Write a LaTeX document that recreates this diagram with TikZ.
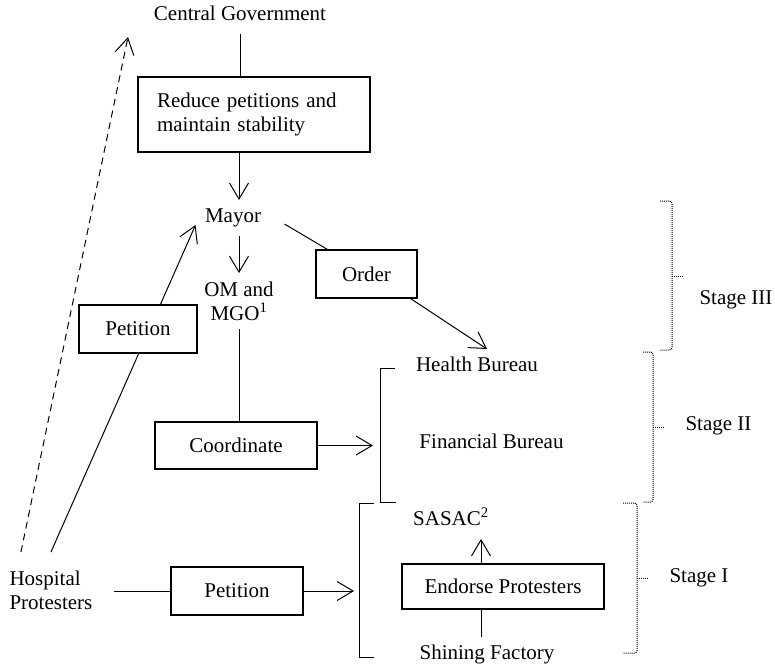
\documentclass[tikz,border=0pt]{standalone}
\usepackage{fontspec}
\setmainfont{Liberation Serif}
\usetikzlibrary{arrows.meta}

\begin{document}
\begin{tikzpicture}[x=1pt, y=-1pt, line width=1pt,
    font=\fontsize{21}{24}\selectfont,
    box/.style={draw, line width=1.2pt, fill=white, inner sep=0pt, align=center},
    lbl/.style={inner xsep=3pt, inner ysep=8pt, text height=14pt, text depth=5pt, align=center},
    lbltwo/.style={inner xsep=3pt, inner ysep=8pt},
    arr/.style={-{Straight Barb[length=16pt, width=19pt]}},
    brace/.style={line width=1pt, dash pattern=on 1pt off 1pt, rounded corners=2.5pt}]
    \useasboundingbox (0,0) rectangle (775,665);

    % labels
    \node[lbl] (central) at (240,16) {Central Government};
    \node[box, text width=194pt, inner xsep=19pt, minimum height=75pt, align=left] (reduce) at (254,114.5) {Reduce petitions and\\maintain stability};
    \node[lbl] (mayor) at (233,218) {Mayor};
    \node[lbltwo, align=center] (om) at (239,301) {OM and\\MGO\textsuperscript{1}};
    \node[box, minimum width=101pt, minimum height=48pt] (order) at (366.5,274) {Order};
    \node[lbl] (health) at (477,367) {Health Bureau};
    \node[lbl] (financial) at (491.5,444) {Financial Bureau};
    \node[box, minimum width=162pt, minimum height=47pt] (coord) at (236,445.5) {Coordinate};
    \node[lbltwo, anchor=west, align=left] (hospital) at (6,590) {Hospital\\Protesters};
    \node[box, minimum width=132pt, minimum height=48pt] (petlow) at (237,591) {Petition};
    \node[lbl] (sasac) at (451,521) {SASAC\textsuperscript{2}};
    \node[box, minimum width=202pt, minimum height=45pt] (endorse) at (503,586.5) {Endorse Protesters};
    \node[lbl] (shining) at (487,655) {Shining Factory};
    \node[lbl, anchor=west] (stagethree) at (696,300) {Stage III};
    \node[lbl, anchor=west] (stagetwo) at (682,426) {Stage II};
    \node[lbl, anchor=west] (stageone) at (666,578) {Stage I};

    \coordinate (gov) at (128,37);
    \coordinate (bureaus) at (373,445.5);
    \coordinate (firms) at (354,591);

    % top part
    \draw (central) -- (central |- reduce.north);
    \draw[arr] (reduce.south -| om) -- (om |- mayor.north);
    \draw[arr] (mayor.south -| om) -- (om.north);
    \draw (om.south) -- (om.south |- coord.north);
    \draw[arr] (coord.east) -- (bureaus);
    \draw ([shift={(20,6)}]mayor.east) -- ([shift={(12,0)}]order.north west);
    \draw[arr] ([shift={(-7,0)}]order.south east) -- ([shift={(10,0)}]health.north);

    % protesters
    \draw[arr] ([shift={(0,-10)}]hospital.north) -- ([shift={(-6,7)}]mayor.west);
    \draw[arr, dash pattern=on 7pt off 5pt] ([shift={(-30,-10)}]hospital.north) -- (gov);
    \node[box, minimum width=118pt, minimum height=48pt] (petup) at (138,329) {Petition};
    \draw[shorten <=18pt] (hospital.east |- petlow) -- (petlow.west);
    \draw[arr] (petlow.east) -- (firms);
    \draw[arr] ([xshift=-22pt]endorse.north) -- ([xshift=30pt]sasac.south);
    \draw ([xshift=-6pt]shining.north) -- ([xshift=-22pt]endorse.south);

    % brackets
    \draw (395,368) -- (380,368) -- (380,502) -- (396,502);
    \draw (374,503) -- (359,503) -- (359,657) -- (374,657);

    % stage braces
    \draw[brace] (660,201) -- (672,201) -- (672,350) -- (660,350);
    \draw[brace] (672,276) -- (683,276);
    \draw[brace] (643,352) -- (653,352) -- (653,502) -- (643,502);
    \draw[brace] (653,427) -- (665,427);
    \draw[brace] (623,503) -- (637,503) -- (637,653) -- (623,653);
    \draw[brace] (637,578) -- (648,578);
\end{tikzpicture}
\end{document}
